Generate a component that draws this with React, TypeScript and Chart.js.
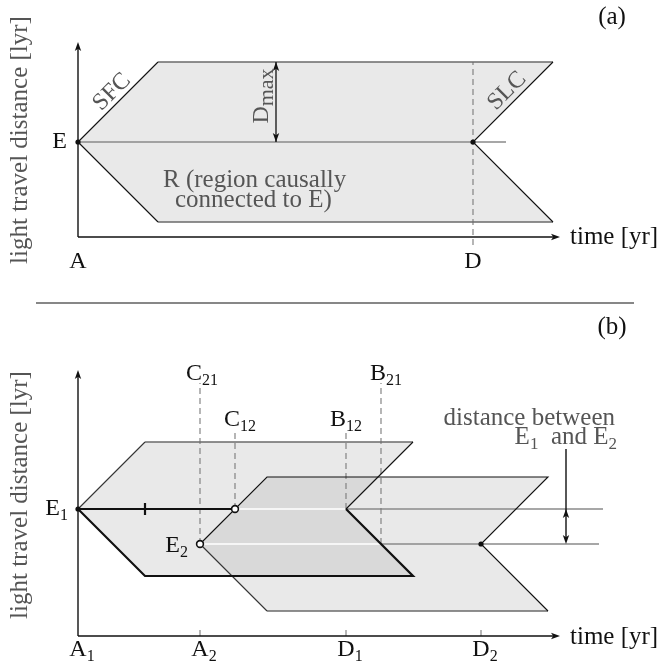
import React, { useEffect, useRef } from 'react';
import { Chart, registerables } from 'chart.js';
Chart.register(...registerables);

// ================= DATA (time in yr, light travel distance in lyr) =================
// ---- panel (a)
const REGION_A_T = [0, 4, 23.75, 19.75, 23.75, 4, 0];
const REGION_A_D = [4.75, 8.75, 8.75, 4.75, 0.75, 0.75, 4.75];
const EVENT_A_LINE_T = [0, 21.4];
const EVENT_A_D = 4.75;
const DMAX_T = 9.9;
const DMAX_D = [4.75, 8.75];
const DETECT_A_T = 19.75;
const DETECT_A_DASH_D = [-0.4, 8.75];
const AXIS_A_T_END = 24.1;
const AXIS_A_D_END = 9.75;
const TICKS_A_T = [0, 19.75];
const TICKS_A_LABELS = ['A', 'D'];
const DOTS_A_T = [0, 19.75];
const DOTS_A_D = [4.75, 4.75];

// ---- panel (b)
const REGION_1_T = [0, 3.35, 16.75, 13.4, 16.75, 3.35, 0];
const REGION_1_D = [6.35, 9.7, 9.7, 6.35, 3.0, 3.0, 6.35];
const REGION_2_T = [6.1, 9.45, 23.5, 20.15, 23.5, 9.45, 6.1];
const REGION_2_D = [4.6, 7.95, 7.95, 4.6, 1.25, 1.25, 4.6];
const OVERLAP_T = [6.1, 9.45, 15.0, 13.4, 16.75, 7.7, 6.1];
const OVERLAP_D = [4.6, 7.95, 7.95, 6.35, 3.0, 3.0, 4.6];
const E1_D = 6.35;
const E2_D = 4.6;
const E1_BLACK_T = [0, 7.85];
const E1_WHITE_T = [7.85, 13.4];
const E1_GRAY_T = [13.4, 26.25];
const E2_WHITE_T = [6.1, 15.15];
const E2_GRAY_T = [15.15, 26.05];
const E1_MARK_T = 3.35;
const E1_MARK_D = [6.05, 6.65];
const DASH_B_T = [6.1, 7.85, 13.4, 15.15];      // C21, C12, B12, B21
const DASH_B_D0 = [4.6, 6.35, 6.35, 4.6];
const DASH_B_D1 = [12.65, 10.2, 10.2, 12.65];
const DASH_B_NAMES = ['C', 'C', 'B', 'B'];
const DASH_B_SUBS = ['21', '12', '12', '21'];
const DASH_B_LABEL_T = [6.2, 8.1, 13.4, 15.4];
const DASH_B_LABEL_D = [13.1, 10.8, 10.8, 13.1];
const TICKS_B_T = [0, 6.1, 13.4, 20.15];
const TICKS_B_NAMES = ['A', 'A', 'D', 'D'];
const TICKS_B_SUBS = ['1', '2', '1', '2'];
const SEP_T = 24.4;
const SEP_D = [9.35, 6.35, 4.6];
const AXIS_B_T_END = 24.1;
const AXIS_B_D_END = 13.3;
const OPEN_T = [7.85, 6.1];
const OPEN_D = [6.35, 4.6];
const DOTS_B_T = [0, 20.15];
const DOTS_B_D = [6.35, 4.6];

// ================= STYLE =================
const FONT = '"Liberation Serif", "Times New Roman", serif';
const BLACK = '#111111';
const EDGE_GRAY = '#6a6a6a';
const LINE_GRAY = '#8a8a8a';
const DASH_GRAY = '#7a7a7a';
const TEXT_GRAY = '#555555';
const FILL_LIGHT = '#e9e9e9';
const FILL_DARK = '#d9d9d9';
const X_MIN = -3.9;
const X_MAX = 29.1;

type Pt = { x: number; y: number };
const xy = (ts: number[], ds: number[]): Pt[] => ts.map((t, i) => ({ x: t, y: ds[i] }));
const h = (ts: number[], d: number): Pt[] => ts.map((t) => ({ x: t, y: d }));
const v = (t: number, ds: number[]): Pt[] => ds.map((d) => ({ x: t, y: d }));
const run = (ts: number[], ds: number[], a: number, b: number) => xy(ts.slice(a, b + 1), ds.slice(a, b + 1));

const line = (data: Pt[], color: string, width: number, dash: number[] = []) => ({
  data,
  borderColor: color,
  borderWidth: width,
  borderDash: dash,
  pointRadius: 0,
  fill: false,
  tension: 0,
  borderCapStyle: 'butt',
  borderJoinStyle: 'miter',
});
const fillShape = (data: Pt[], color: string) => ({
  data,
  polyFill: color,
  borderColor: 'rgba(0,0,0,0)',
  borderWidth: 0,
  pointRadius: 0,
  fill: false,
});
const dots = (data: Pt[], r: number, bg: string, bw: number) => ({
  data,
  showLine: false,
  pointRadius: r,
  pointBackgroundColor: bg,
  pointBorderColor: BLACK,
  pointBorderWidth: bw,
});

type Seg = { t: string; sub?: boolean };
type Label = {
  segs: Seg[];
  t: number;
  d: number;
  align: 'left' | 'center' | 'right' | 'first';
  size?: number;
  color?: string;
  rot?: number;
  subScale?: number;
  subShift?: number;
};
type Arrow = { t: number; d: number; dx: number; dy: number };

function drawRich(ctx: CanvasRenderingContext2D, L: Label, px: number, py: number) {
  const size = L.size ?? 24;
  const subScale = L.subScale ?? 0.66;
  const subShift = L.subShift ?? 0.3;
  ctx.save();
  ctx.translate(px, py);
  if (L.rot) ctx.rotate(L.rot);
  const mainFont = `${size}px ${FONT}`;
  const subFont = `${Math.round(size * subScale)}px ${FONT}`;
  let total = 0;
  const widths = L.segs.map((s) => {
    ctx.font = s.sub ? subFont : mainFont;
    const w = ctx.measureText(s.t).width;
    total += w;
    return w;
  });
  let x = 0;
  if (L.align === 'center') x = -total / 2;
  else if (L.align === 'right') x = -total;
  else if (L.align === 'first') x = -widths[0] / 2;
  ctx.fillStyle = L.color ?? BLACK;
  ctx.textBaseline = 'middle';
  ctx.textAlign = 'left';
  L.segs.forEach((s, i) => {
    ctx.font = s.sub ? subFont : mainFont;
    ctx.fillText(s.t, x, s.sub ? size * subShift : 0);
    x += widths[i];
  });
  ctx.restore();
}

function drawHead(ctx: CanvasRenderingContext2D, x: number, y: number, dx: number, dy: number) {
  const len = 9;
  const half = 3.2;
  const bx = x - dx * len;
  const by = y - dy * len;
  const nx = -dy;
  const ny = dx;
  ctx.save();
  ctx.fillStyle = BLACK;
  ctx.beginPath();
  ctx.moveTo(x, y);
  ctx.lineTo(bx + nx * half, by + ny * half);
  ctx.lineTo(x - dx * len * 0.75, y - dy * len * 0.75);
  ctx.lineTo(bx - nx * half, by - ny * half);
  ctx.closePath();
  ctx.fill();
  ctx.restore();
}

function decorPlugin(labels: Label[], arrows: Arrow[], separator: boolean) {
  return {
    id: 'decor',
    beforeDatasetsDraw(chart: any) {
      const ctx = chart.ctx as CanvasRenderingContext2D;
      chart.data.datasets.forEach((ds: any, i: number) => {
        if (!ds.polyFill) return;
        const pts = chart.getDatasetMeta(i).data;
        ctx.save();
        ctx.beginPath();
        pts.forEach((p: any, j: number) => (j ? ctx.lineTo(p.x, p.y) : ctx.moveTo(p.x, p.y)));
        ctx.closePath();
        ctx.fillStyle = ds.polyFill;
        ctx.fill();
        ctx.restore();
      });
    },
    afterDatasetsDraw(chart: any) {
      const ctx = chart.ctx as CanvasRenderingContext2D;
      const sx = chart.scales.x;
      const sy = chart.scales.y;
      arrows.forEach((a) => drawHead(ctx, sx.getPixelForValue(a.t), sy.getPixelForValue(a.d), a.dx, a.dy));
      labels.forEach((L) => drawRich(ctx, L, sx.getPixelForValue(L.t), sy.getPixelForValue(L.d)));
      if (separator) {
        ctx.save();
        ctx.strokeStyle = BLACK;
        ctx.lineWidth = 1.2;
        ctx.beginPath();
        ctx.moveTo(36, 3);
        ctx.lineTo(634, 3);
        ctx.stroke();
        ctx.restore();
      }
    },
  };
}

function withOrder(datasets: any[]) {
  return datasets.map((d, i) => ({ ...d, order: -i }));
}

function makeConfig(datasets: any[], yMin: number, yMax: number, plugin: any) {
  return {
    type: 'line',
    data: { datasets: withOrder(datasets) },
    options: {
      animation: false,
      responsive: false,
      devicePixelRatio: 1,
      events: [],
      layout: { padding: 0, autoPadding: false },
      plugins: { legend: { display: false }, tooltip: { enabled: false } },
      scales: {
        x: { type: 'linear', min: X_MIN, max: X_MAX, display: false },
        y: { type: 'linear', min: yMin, max: yMax, display: false },
      },
    },
    plugins: [plugin],
  } as any;
}

function panelA() {
  const datasets = [
    fillShape(xy(REGION_A_T, REGION_A_D), FILL_LIGHT),
    line(h(EVENT_A_LINE_T, EVENT_A_D), LINE_GRAY, 1.4),
    line(v(DETECT_A_T, DETECT_A_DASH_D), DASH_GRAY, 1.1, [6, 4]),
    line(run(REGION_A_T, REGION_A_D, 1, 2), EDGE_GRAY, 1.3),
    line(run(REGION_A_T, REGION_A_D, 4, 5), EDGE_GRAY, 1.3),
    line(run(REGION_A_T, REGION_A_D, 0, 1), BLACK, 1.1),
    line(run(REGION_A_T, REGION_A_D, 2, 4), BLACK, 1.1),
    line(run(REGION_A_T, REGION_A_D, 5, 6), BLACK, 1.1),
    line(v(DMAX_T, DMAX_D), BLACK, 1.3),
    line(h([0, AXIS_A_T_END - 0.3], 0), BLACK, 1.4),
    line(v(0, [0, AXIS_A_D_END - 0.3]), BLACK, 1.4),
    dots(xy(DOTS_A_T, DOTS_A_D), 2.6, BLACK, 0),
  ];
  const labels: Label[] = [
    { segs: [{ t: 'E' }], t: -0.55, d: EVENT_A_D, align: 'right' },
    ...TICKS_A_T.map((t, i) => ({ segs: [{ t: TICKS_A_LABELS[i] }], t, d: -1.25, align: 'center' as const })),
    { segs: [{ t: 'time [yr]' }], t: 24.6, d: 0, align: 'left', size: 25 },
    { segs: [{ t: '(a)' }], t: 26.7, d: 11.0, align: 'center', size: 25 },
    { segs: [{ t: 'light travel distance [lyr]' }], t: -2.9, d: 4.85, align: 'center', size: 25, color: TEXT_GRAY, rot: -Math.PI / 2 },
    { segs: [{ t: 'SFC' }], t: 1.7, d: 7.25, align: 'center', size: 24, color: TEXT_GRAY, rot: -Math.PI / 4 },
    { segs: [{ t: 'SLC' }], t: 21.45, d: 7.3, align: 'center', size: 24, color: TEXT_GRAY, rot: -Math.PI / 4 },
    { segs: [{ t: 'D' }, { t: 'max', sub: true }], t: 9.2, d: 7.05, align: 'center', size: 24, color: TEXT_GRAY, rot: -Math.PI / 2, subScale: 0.9, subShift: 0.2 },
    { segs: [{ t: 'R (region causally' }], t: 4.25, d: 2.85, align: 'left', size: 25, color: TEXT_GRAY },
    { segs: [{ t: 'connected to E)' }], t: 4.85, d: 1.85, align: 'left', size: 25, color: TEXT_GRAY },
  ];
  const arrows: Arrow[] = [
    { t: AXIS_A_T_END, d: 0, dx: 1, dy: 0 },
    { t: 0, d: AXIS_A_D_END, dx: 0, dy: -1 },
    { t: DMAX_T, d: DMAX_D[1], dx: 0, dy: -1 },
    { t: DMAX_T, d: DMAX_D[0], dx: 0, dy: 1 },
  ];
  return makeConfig(datasets, -3.15, 11.85, decorPlugin(labels, arrows, false));
}

function panelB() {
  const datasets = [
    fillShape(xy(REGION_1_T, REGION_1_D), FILL_LIGHT),
    fillShape(xy(REGION_2_T, REGION_2_D), FILL_LIGHT),
    fillShape(xy(OVERLAP_T, OVERLAP_D), FILL_DARK),
    line(h(E1_GRAY_T, E1_D), LINE_GRAY, 1.4),
    line(h(E2_GRAY_T, E2_D), LINE_GRAY, 1.4),
    line(h(E1_WHITE_T, E1_D), '#ffffff', 1.4),
    line(h(E2_WHITE_T, E2_D), '#ffffff', 1.4),
    ...DASH_B_T.map((t, i) => line(v(t, [DASH_B_D0[i], DASH_B_D1[i]]), DASH_GRAY, 1.1, [6, 4])),
    ...TICKS_B_T.slice(1).map((t) => line(v(t, [0, 0.3]), DASH_GRAY, 1.1)),
    // region 1 edges
    line(run(REGION_1_T, REGION_1_D, 1, 2), EDGE_GRAY, 1.3),
    line(run(REGION_1_T, REGION_1_D, 0, 1), '#333333', 1.1),
    line(run(REGION_1_T, REGION_1_D, 2, 3), BLACK, 1.1),
    // region 2 edges
    line(run(REGION_2_T, REGION_2_D, 4, 5), EDGE_GRAY, 1.3),
    line(run(REGION_2_T, REGION_2_D, 5, 6), '#333333', 1.1),
    line(run(REGION_2_T, REGION_2_D, 0, 4), BLACK, 1.1),
    line(run(REGION_1_T, REGION_1_D, 3, 6), BLACK, 2.2),
    line(h(E1_BLACK_T, E1_D), BLACK, 2.2),
    line(v(E1_MARK_T, E1_MARK_D), BLACK, 2.2),
    line(v(SEP_T, [SEP_D[0], SEP_D[2] + 0.3]), BLACK, 1.4),
    line(h([0, AXIS_B_T_END - 0.3], 0), BLACK, 1.4),
    line(v(0, [0, AXIS_B_D_END - 0.3]), BLACK, 1.4),
    dots(xy(DOTS_B_T, DOTS_B_D), 2.6, BLACK, 0),
    dots(xy(OPEN_T, OPEN_D), 3.4, '#ffffff', 1.6),
  ];
  const labels: Label[] = [
    { segs: [{ t: 'E' }, { t: '1', sub: true }], t: -0.5, d: E1_D, align: 'right' },
    { segs: [{ t: 'E' }, { t: '2', sub: true }], t: 5.5, d: 4.5, align: 'right' },
    ...TICKS_B_T.map((t, i) => ({ segs: [{ t: TICKS_B_NAMES[i] }, { t: TICKS_B_SUBS[i], sub: true }], t, d: -0.7, align: 'first' as const })),
    ...DASH_B_T.map((_, i) => ({ segs: [{ t: DASH_B_NAMES[i] }, { t: DASH_B_SUBS[i], sub: true }], t: DASH_B_LABEL_T[i], d: DASH_B_LABEL_D[i], align: 'center' as const })),
    { segs: [{ t: 'time [yr]' }], t: 24.6, d: -0.05, align: 'left', size: 25 },
    { segs: [{ t: '(b)' }], t: 26.7, d: 15.45, align: 'center', size: 25 },
    { segs: [{ t: 'light travel distance [lyr]' }], t: -2.9, d: 7.05, align: 'center', size: 25, color: TEXT_GRAY, rot: -Math.PI / 2 },
    { segs: [{ t: 'distance between' }], t: 26.85, d: 10.9, align: 'right', size: 25, color: TEXT_GRAY },
    { segs: [{ t: 'E' }, { t: '1', sub: true }, { t: '  and E' }, { t: '2', sub: true }], t: 26.95, d: 9.95, align: 'right', size: 25, color: TEXT_GRAY },
  ];
  const arrows: Arrow[] = [
    { t: AXIS_B_T_END, d: 0, dx: 1, dy: 0 },
    { t: 0, d: AXIS_B_D_END, dx: 0, dy: -1 },
    { t: SEP_T, d: SEP_D[1], dx: 0, dy: -1 },
    { t: SEP_T, d: SEP_D[2], dx: 0, dy: 1 },
  ];
  return makeConfig(datasets, -1.35, 16.8, decorPlugin(labels, arrows, true));
}

export default function App() {
  const refA = useRef<HTMLCanvasElement | null>(null);
  const refB = useRef<HTMLCanvasElement | null>(null);
  useEffect(() => {
    const a = new Chart(refA.current as HTMLCanvasElement, panelA());
    const b = new Chart(refB.current as HTMLCanvasElement, panelB());
    return () => {
      a.destroy();
      b.destroy();
    };
  }, []);
  return (
    <div style={{ position: 'absolute', left: 0, top: 0, width: 660, height: 663, background: '#ffffff' }}>
      <canvas ref={refA} width={660} height={300} style={{ position: 'absolute', left: 0, top: 0, width: 660, height: 300 }} />
      <canvas ref={refB} width={660} height={363} style={{ position: 'absolute', left: 0, top: 300, width: 660, height: 363 }} />
    </div>
  );
}
